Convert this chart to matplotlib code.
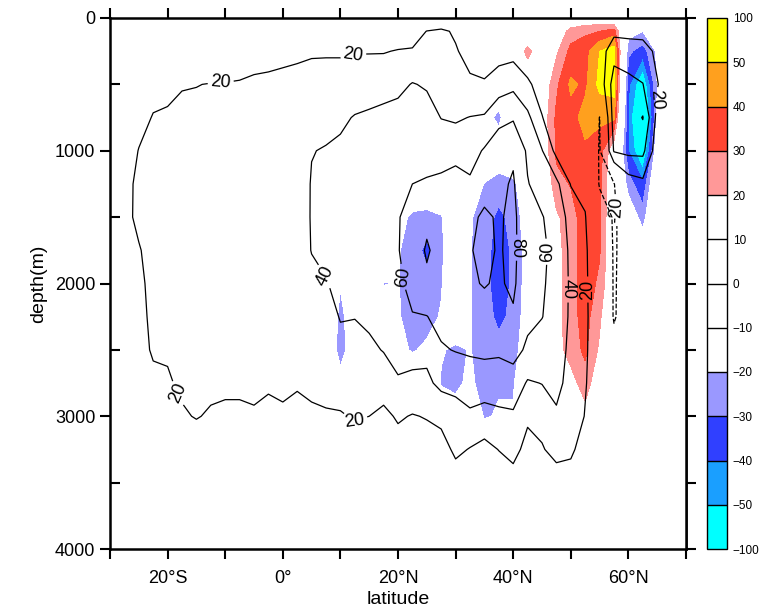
import numpy as np
import matplotlib
matplotlib.use("Agg")
import matplotlib.pyplot as plt
from matplotlib.colors import ListedColormap, BoundaryNorm

# grid
lat = [-30, -27.5, -25, -22.5, -20, -17.5, -15, -12.5, -10, -7.5, -5, -2.5,
       0, 2.5, 5, 7.5, 10, 12.5, 15, 17.5, 20, 22.5, 25, 27.5, 30, 32.5,
       35, 37.5, 40, 42.5, 45, 47.5, 50, 52.5, 55, 57.5, 60, 62.5, 65,
       67.5, 70]
depth = [0, 100, 250, 500, 750, 1000, 1250, 1500, 1750, 2000, 2250, 2500,
         2750, 3000, 3250, 3500, 3750, 4000]

# streamfunction (contour lines), one profile per latitude
psi_cols = [
    [0, 2, 4, 7, 10, 12, 14, 15, 15, 15, 14, 13, 12, 10, 7, 4, 2, 0],
    [0, 2, 5, 8, 12, 15, 17, 18, 18, 18, 17, 16, 15, 12, 8, 5, 2, 0],
    [0, 3, 6, 10, 17, 20.3, 22, 21.5, 19.5, 18.5, 18, 17, 16, 13, 9, 5, 2, 0],
    [0, 4, 9, 17, 20.5, 22, 23, 23, 22.5, 22, 21.5, 21, 18, 14, 9, 5, 2, 0],
    [0, 4, 10, 18, 21, 23, 24, 24, 24, 23.5, 23, 21, 19, 15, 10, 5, 2, 0],
    [0, 5, 11, 19.5, 22, 24, 25, 25, 25, 24, 24, 23, 21.5, 19, 13, 7, 3, 0],
    [0, 5, 11, 19.8, 22, 24, 25, 25.5, 25.5, 25, 24.5, 24, 22.5, 20.5, 15, 8, 3, 0],
    [0, 5, 12, 20.3, 23, 24.5, 25.5, 26, 26, 25.5, 25, 24, 22, 19, 13, 7, 3, 0],
    [0, 5, 12, 20.5, 23, 25, 26, 26, 26, 26, 25, 24, 21.5, 18.5, 13, 7, 3, 0],
    [0, 6, 13, 21, 23.5, 25, 26, 26.5, 26.5, 26, 25, 24, 21.5, 18.5, 13, 7, 3, 0],
    [0, 6, 14, 22.5, 24, 25.5, 26.5, 27, 27, 26.5, 25.5, 24, 22, 19, 13, 7, 3, 0],
    [0, 7, 15, 23, 25, 26, 27, 27.5, 27.5, 27, 26, 24.5, 21, 18, 12, 7, 3, 0],
    [0, 7, 16, 24, 26, 27, 28, 28.5, 28.5, 28, 27, 25, 22, 18.5, 12, 7, 3, 0],
    [0, 8, 17, 25, 28, 30, 31, 32, 32, 31, 29, 26, 21, 17, 11, 6, 3, 0],
    [0, 8, 18, 27, 32, 39.5, 41, 41, 40.5, 36, 31, 27, 22, 18.5, 12, 6, 3, 0],
    [0, 8, 18, 28, 35, 41, 44, 45, 44, 39, 33, 28, 23, 19, 12, 6, 3, 0],
    [0, 8, 18, 28, 37, 43, 47, 49, 48, 45, 41, 35, 25, 19, 12, 6, 3, 0],
    [0, 8, 19, 30, 41, 47, 51, 53, 53, 49, 40.5, 34, 26, 21, 14, 7, 3, 0],
    [0, 8, 19, 31, 43, 49, 54, 56, 56, 52, 44, 36, 27, 20, 13, 7, 3, 0],
    [0, 8, 19, 33, 45, 52, 57, 59, 59, 55, 47, 41, 28, 16, 12, 6, 3, 0],
    [0, 9, 21, 35, 47, 54, 58, 59.5, 59.5, 58, 52, 46, 38, 22, 13, 7, 3, 0],
    [0, 10, 22, 41, 52, 57, 60, 63, 65, 63, 59.5, 49, 34, 19, 12, 6, 3, 0],
    [0, 20.5, 30, 38, 48, 56, 61, 74, 83, 75, 59.5, 45, 36, 21, 12, 6, 3, 0],
    [0, 24, 31, 37, 39.5, 52, 64, 68, 70, 69, 66, 58, 45, 25, 12, 7, 3, 0],
    [0, 17, 22, 33, 38, 50, 72, 73, 74, 72, 68, 61, 45, 33, 24, 10, 3, 0],
    [0, 5, 12, 24, 40.5, 52, 63, 76, 79, 78, 75, 62, 52, 36, 19, 10, 3, 0],
    [0, 4, 10, 22, 42, 62, 73, 83, 84, 81, 74, 64, 50, 33, 14, 6, 2, 0],
    [0, 8, 12, 30, 55, 70, 76, 78, 78.5, 78, 72, 63, 50, 36, 20.5, 8, 2, 0],
    [0, 10, 13, 35, 58, 77, 82, 84, 84, 83, 78, 66, 52, 37, 26, 12, 3, 0],
    [0, 8, 12, 22, 45, 57, 61, 67, 68, 67, 64, 57, 38, 23, 14, 7, 2, 0],
    [0, 4, 9, 15, 20.5, 41, 52, 61, 63, 62, 60.5, 52, 40.5, 28, 18, 8, 2, 0],
    [0, 3, 6, 10, 12, 14, 45, 52, 55, 54, 52, 48, 44, 38, 28, 8, 2, 0],
    [0, 2, 4, 6, 8, 12, 19, 33, 36, 37, 37, 36, 35, 33, 24, 10, 3, 0],
    [0, 0, 1, 2, 4, 8, 15, 21, 23, 23, 23, 22.5, 21.5, 19, 10, 4, 1, 0],
    [0, 8, 10, 6, -20.5, -22, -22, -8, 2, 6, 8, 8, 6, 3, 1, 0, 0, 0],
    [0, 15, 32, 50, 50, 42, -21, -22, -22, -22, -22, -12, -5, -2, 0, 0, 0, 0],
    [0, 14, 30, 45, 48, 45, 10, -12, -12, -10, -8, -4, -2, 0, 0, 0, 0, 0],
    [0, 14, 28, 40.5, 61, 45, 15, 0, -3, -3, -2, 0, 0, 0, 0, 0, 0, 0],
    [0, 8, 16, 21, 14, 8, 2, 0, 0, 0, 0, 0, 0, 0, 0, 0, 0, 0],
    [0, 3, 6, 8, 6, 3, 1, 0, 0, 0, 0, 0, 0, 0, 0, 0, 0, 0],
    [0, 1, 2, 3, 2, 1, 0, 0, 0, 0, 0, 0, 0, 0, 0, 0, 0, 0],
]

# shaded anomaly, profiles for 5N..70N (zero further south)
anom_lat0 = 5
anom_cols = [
    [0, 0, 0, 0, 0, 0, 0, 0, 0, 0, 0, 0, 0, 0, 0, 0, 0, 0],
    [0, 0, 0, 0, 0, 0, 0, 0, 0, -5, -12, -12, -5, 0, 0, 0, 0, 0],
    [0, 0, 0, 0, 0, 0, 0, 0, 0, -19.5, -22, -23, -17, 0, 0, 0, 0, 0],
    [0, 0, 0, 0, 0, 0, 0, 0, 0, -8, -15, -15, -8, 0, 0, 0, 0, 0],
    [0, 0, 0, 0, 0, 0, 0, 0, 0, -10, -20.5, -10, 0, 0, 0, 0, 0, 0],
    [0, 0, 0, 0, 0, 0, 0, 0, -8, -20.5, -12, 0, 0, 0, 0, 0, 0, 0],
    [0, 0, 0, 0, 0, 0, -5, -16, -19, -19.5, -19, -17, -5, 0, 0, 0, 0, 0],
    [0, 0, 0, 0, 0, 0, -10, -22, -25, -25, -24, -21, -10, 0, 0, 0, 0, 0],
    [0, 0, 0, 0, 0, 0, -10, -23, -33, -26, -24, -18, -5, 0, 0, 0, 0, 0],
    [0, 0, 0, 0, 0, 0, -5, -21, -22, -21, -19, -19, -21, -10, 0, 0, 0, 0],
    [0, 0, 0, 0, 0, 0, -5, -10, -10, -8, -10, -22, -21, -18, -5, 0, 0, 0],
    [0, 0, 0, 0, 0, 0, -12, -19, -19.5, -19.5, -19.5, -19.5, -19, -10, -3, 0, 0, 0],
    [0, 0, 0, 0, -15, -8, -20.5, -24, -25, -26, -25, -24, -22, -21, -8, 0, 0, 0],
    [0, 0, 0, -10, -23, -12, -24, -33, -36, -36, -33, -26, -21, -19, -5, 0, 0, 0],
    [0, 0, 0, 0, -5, -10, -22, -26, -28, -28, -27, -24, -21, -19, -5, 0, 0, 0],
    [0, 0, 26, 0, 0, -5, -12, -14, -15, -15, -14, -13, -10, -5, 0, 0, 0, 0],
    [0, 0, 5, 10, 12, 10, 5, 0, 0, 0, 0, 0, 0, 0, 0, 0, 0, 0],
    [0, 8, 18, 28, 32, 32, 27, 18, 16, 16, 16, 15, 10, 5, 0, 0, 0, 0],
    [5, 25, 33, 42, 36, 33, 30.5, 26, 26, 26, 26, 25, 15, 5, 0, 0, 0, 0],
    [10, 28, 36, 38, 44, 38, 36, 35, 35, 35, 34, 32, 26, 15, 5, 0, 0, 0],
    [10, 30, 50, 53, 42, 35, 33, 32, 31, 28, 22, 18, 10, 5, 0, 0, 0, 0],
    [5, 35, 55, 55, 42, 10, 5, 5, 5, 5, 3, 0, 0, 0, 0, 0, 0, 0],
    [0, -15, -28, -38, -42, -40, -25, -10, 0, 0, 0, 0, 0, 0, 0, 0, 0, 0],
    [0, -20, -35, -62, -80, -65, -38, -25, -10, 0, 0, 0, 0, 0, 0, 0, 0, 0],
    [0, -10, -18, -20, -18, -10, -3, 0, 0, 0, 0, 0, 0, 0, 0, 0, 0, 0],
    [0, 0, 0, 0, 0, 0, 0, 0, 0, 0, 0, 0, 0, 0, 0, 0, 0, 0],
    [0, 0, 0, 0, 0, 0, 0, 0, 0, 0, 0, 0, 0, 0, 0, 0, 0, 0],
]

fill_levels = [-100, -50, -40, -30, -20, -10, 0, 10, 20, 30, 40, 50, 100]
fill_colors = ["#00ffff", "#1a9fff", "#3040ff", "#9a98ff", "white", "white",
               "white", "white", "#ff9898", "#ff4632", "#ffa01e", "#ffff00"]
line_levels = [-20, 20, 40, 60, 80]

# label spots (lat, depth)
label_pos = [(-10.8, 466), (12.5, 323), (-18.7, 2835), (12.5, 3050),
             (7.8, 1932), (20, 1955), (40.8, 1730), (45.8, 1760),
             (49.3, 2045), (53.8, 2045), (58.8, 1444), (64.6, 617)]

plt.rcParams["font.family"] = ["Liberation Sans", "DejaVu Sans"]

psi = np.array(psi_cols).T
anom = np.zeros_like(psi)
i0 = lat.index(anom_lat0)
anom[:, i0:] = np.array(anom_cols).T

fig = plt.figure(figsize=(7.73, 6.15), dpi=100)
ax = fig.add_axes([110 / 773, 66 / 615, 576 / 773, 531 / 615])
cax = fig.add_axes([707 / 773, 66 / 615, 20 / 773, 531 / 615])

cmap = ListedColormap(fill_colors)
norm = BoundaryNorm(fill_levels, cmap.N)
cf = ax.contourf(lat, depth, anom, levels=fill_levels, cmap=cmap, norm=norm)
cs = ax.contour(lat, depth, psi, levels=line_levels, colors="black",
                linewidths=0.9)
ax.clabel(cs, fmt="%d", fontsize=13, inline=True, inline_spacing=3,
          manual=label_pos)

ax.set_xlim(-30, 70)
ax.set_ylim(4000, 0)
ax.set_xticks([-20, 0, 20, 40, 60])
ax.set_xticklabels(["20°S", "0°", "20°N", "40°N", "60°N"])
ax.set_xticks([-30, -10, 10, 30, 50, 70], minor=True)
ax.set_yticks([0, 1000, 2000, 3000, 4000])
ax.set_yticks([500, 1500, 2500, 3500], minor=True)
ax.tick_params(axis="x", which="both", direction="out", length=7, width=1.5,
               top=True, labelsize=13, pad=8)
ax.tick_params(axis="y", which="major", direction="out", length=7,
               width=1.5, right=False, labelsize=13)
ax.tick_params(axis="y", which="minor", direction="in", length=7,
               width=1.5, right=False)
sec = ax.secondary_yaxis("right")
sec.set_yticks([0, 500, 1000, 1500, 2000, 2500, 3000, 3500, 4000])
sec.tick_params(direction="out", length=7, width=1.5, labelright=False)
sec.spines["right"].set_linewidth(1.8)
for s in ax.spines.values():
    s.set_linewidth(1.8)
ax.set_xlabel("latitude", fontsize=14, labelpad=3)
ax.set_ylabel("depth(m)", fontsize=14, labelpad=6)

cb = fig.colorbar(cf, cax=cax, ticks=fill_levels, drawedges=True)
cb.ax.tick_params(length=0, labelsize=8.5, pad=4)
cb.outline.set_linewidth(1.0)
cb.dividers.set_linewidth(1.0)

fig.savefig("out.png", dpi=100)
